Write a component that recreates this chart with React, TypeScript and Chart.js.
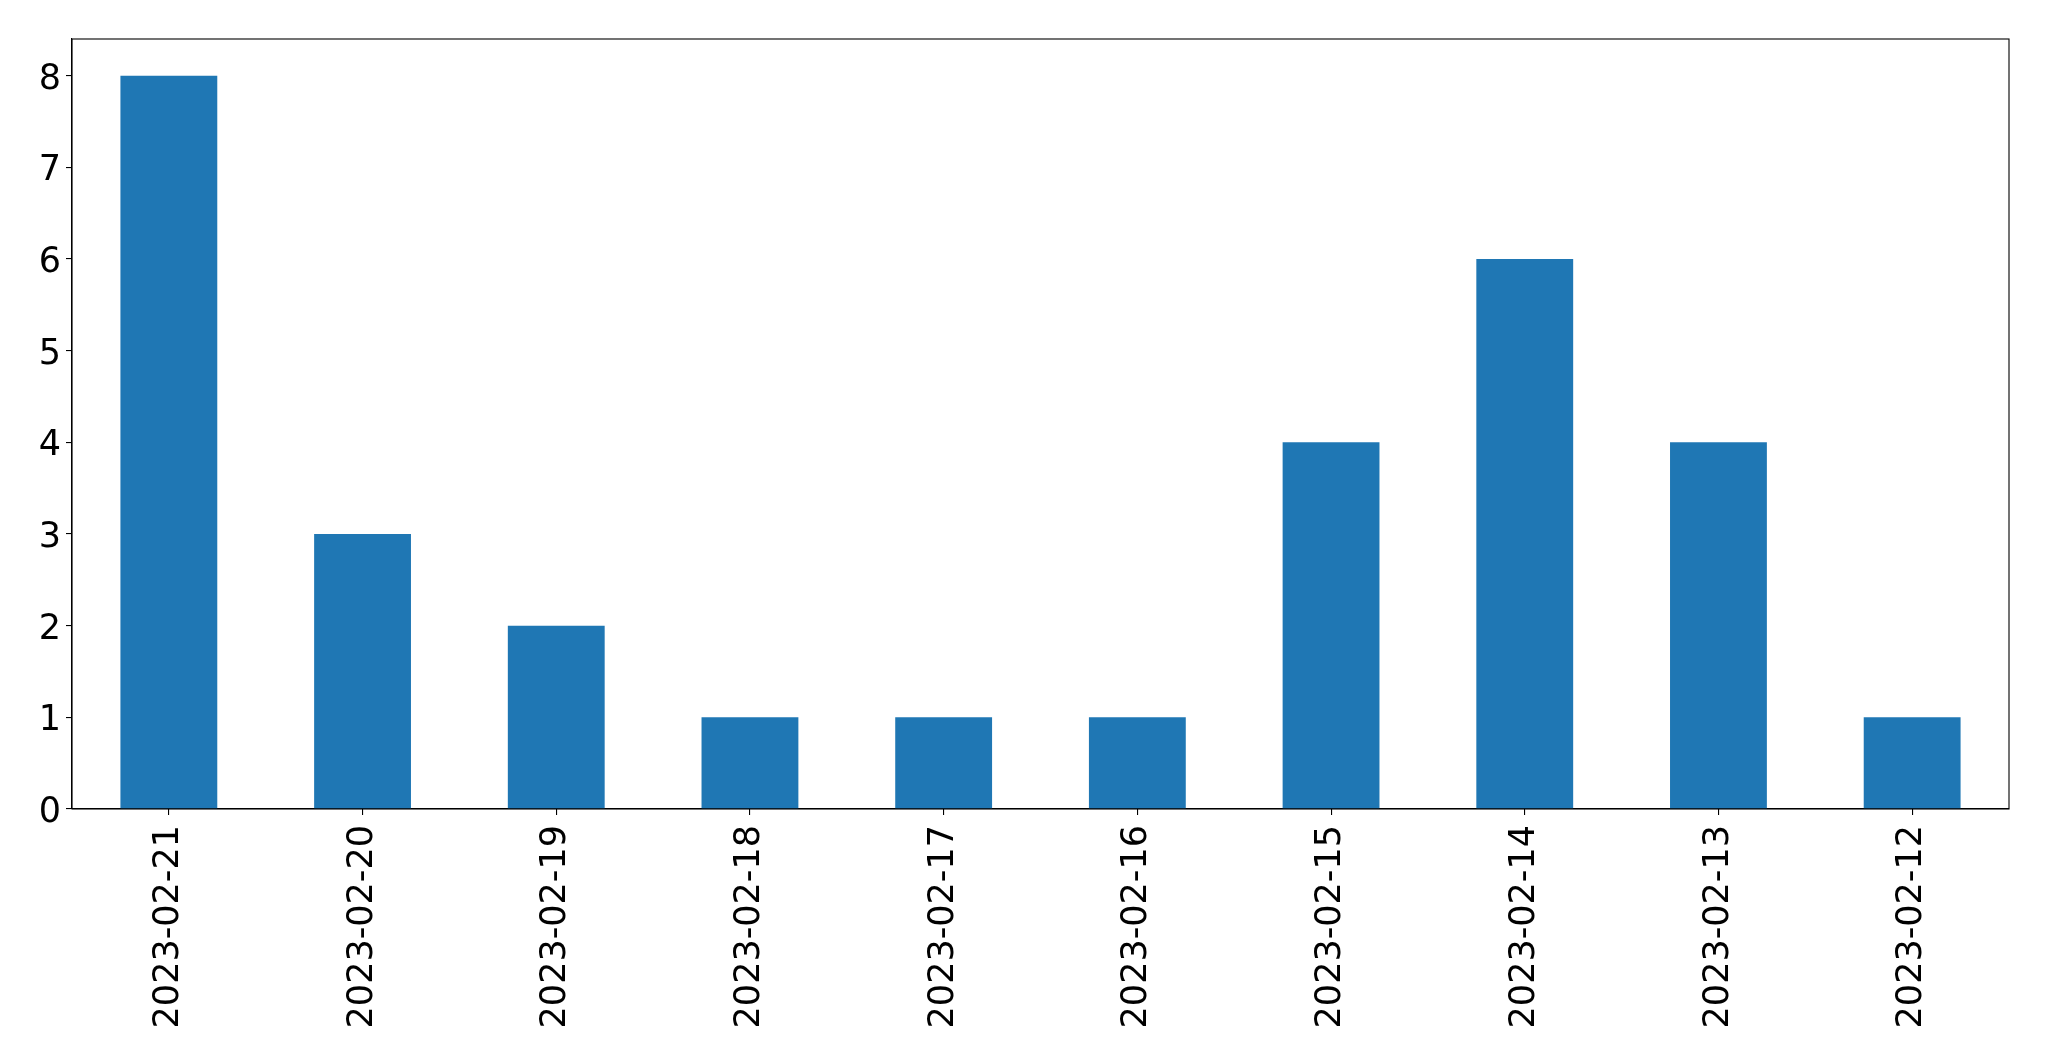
import React, { useEffect, useRef } from "react";
import { Chart, registerables } from "chart.js";

Chart.register(...registerables);

const categories = [
  "2023-02-21",
  "2023-02-20",
  "2023-02-19",
  "2023-02-18",
  "2023-02-17",
  "2023-02-16",
  "2023-02-15",
  "2023-02-14",
  "2023-02-13",
  "2023-02-12",
];
const counts = [8, 3, 2, 1, 1, 1, 4, 6, 4, 1];
const yTicks = [0, 1, 2, 3, 4, 5, 6, 7, 8];

const W = 2049;
const H = 1061;

const framePlugin = {
  id: "frame",
  afterDraw(chart: any) {
    const { ctx, chartArea } = chart;
    ctx.save();
    ctx.strokeStyle = "#000";
    ctx.lineWidth = 1.1;
    ctx.strokeRect(chartArea.left, chartArea.top, chartArea.right - chartArea.left, chartArea.bottom - chartArea.top);
    ctx.restore();
  },
};

export default function App() {
  const ref = useRef<HTMLCanvasElement | null>(null);
  useEffect(() => {
    if (!ref.current) return;
    const font = { family: "'DejaVu Sans'", size: 35 };
    const chart = new Chart(ref.current, {
      type: "bar",
      data: {
        labels: categories,
        datasets: [
          {
            data: counts,
            backgroundColor: "#1f77b4",
            borderWidth: 0,
            categoryPercentage: 0.5,
            barPercentage: 1,
          },
        ],
      },
      options: {
        responsive: false,
        animation: false,
        devicePixelRatio: 1,
        layout: { padding: { top: 39, right: 40, left: 0, bottom: 0 } },
        plugins: { legend: { display: false }, tooltip: { enabled: false } },
        scales: {
          x: {
            type: "category",
            offset: true,
            grid: { display: true, offset: false, drawOnChartArea: false, drawTicks: true, tickLength: 6, color: "#000", lineWidth: 1.1 },
            border: { display: true, color: "#000", width: 1.1 },
            ticks: { color: "#000", font, minRotation: 90, maxRotation: 90, autoSkip: false, padding: 10 },
            afterFit(scale: any) {
              scale.height = H - 809;
            },
          },
          y: {
            type: "linear",
            min: 0,
            max: 8.4,
            grid: { display: true, drawOnChartArea: false, drawTicks: true, tickLength: 6, color: "#000", lineWidth: 1.1 },
            border: { display: true, color: "#000", width: 1.1 },
            ticks: { color: "#000", font, stepSize: 1, padding: 5, labelOffset: 4 },
            afterBuildTicks(scale: any) {
              scale.ticks = yTicks.map((v) => ({ value: v }));
            },
            afterFit(scale: any) {
              scale.width = 72;
            },
          },
        },
      },
      plugins: [framePlugin],
    });
    return () => chart.destroy();
  }, []);
  return (
    <div style={{ position: "fixed", left: 0, top: 0, width: W, height: H, background: "#fff" }}>
      <canvas ref={ref} width={W} height={H} style={{ display: "block" }} />
    </div>
  );
}
